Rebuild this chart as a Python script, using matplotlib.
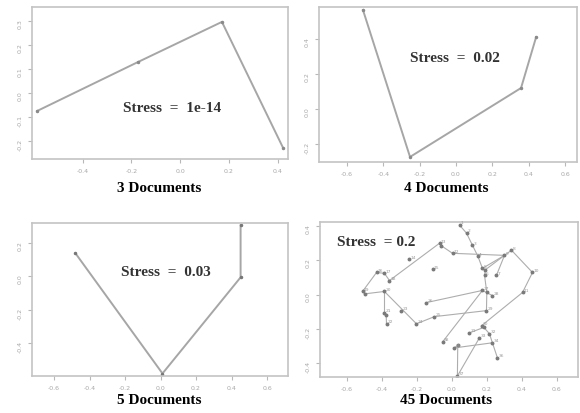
import matplotlib
matplotlib.use('Agg')
from matplotlib import pyplot as plt

# MDS configurations of the document sets, with their stress values
docs3_x = [-0.587, -0.173, 0.171, 0.422]
docs3_y = [-0.075, 0.129, 0.296, -0.229]

docs4_x = [-0.512, -0.253, 0.358, 0.441]
docs4_y = [0.566, -0.274, 0.120, 0.411]

docs5_x = [-0.479, 0.011, 0.451, 0.451]
docs5_y = [0.138, -0.583, -0.006, 0.306]

docs45_x = [0.043, 0.083, 0.117, 0.148, 0.174, 0.186, 0.254, 0.340, 0.300, 0.460,
            0.403, 0.003, -0.071, -0.243, -0.111, -0.431, -0.386, -0.357, -0.511, -0.386,
            -0.386, -0.374, -0.289, -0.203, -0.100, -0.146, 0.174, 0.231, 0.197, 0.169,
            0.100, 0.214, 0.157, 0.231, 0.014, 0.260, 0.031, -0.053, -0.376, -0.062,
            0.191, 0.033, 0.182, -0.498, 0.199]
docs45_y = [0.406, 0.359, 0.288, 0.224, 0.153, 0.112, 0.112, 0.259, 0.229, 0.129,
            0.012, 0.241, 0.300, 0.206, 0.147, 0.129, 0.124, 0.082, 0.018, 0.018,
            -0.106, -0.171, -0.094, -0.171, -0.129, -0.047, 0.024, -0.006, -0.094, -0.182,
            -0.224, -0.229, -0.253, -0.282, -0.312, -0.371, -0.476, -0.276, -0.120, 0.286,
            0.145, -0.296, -0.192, 0.004, 0.012]
# links between documents (1-based ids)
docs45_links = [(1, 2), (2, 3), (3, 4), (4, 5), (5, 41), (41, 6), (6, 45), (45, 29),
                (9, 5), (9, 41), (9, 7), (9, 8), (8, 10), (10, 11), (11, 30), (12, 9),
                (12, 40), (40, 13), (13, 18), (19, 16), (16, 17), (17, 18), (19, 44),
                (44, 20), (20, 21), (21, 39), (39, 22), (20, 24), (24, 25), (25, 29),
                (26, 27), (38, 27), (27, 28), (30, 43), (43, 31), (43, 32), (32, 34),
                (34, 35), (34, 36), (35, 42), (42, 37), (37, 33)]
# documents that sit on top of another one get no label of their own
docs45_hidden = [39, 40, 41, 42, 43, 44, 45]

stress = ["1e-14", "0.02", "0.03", "0.2"]
titles = ["3 Documents", "4 Documents", "5 Documents", "45 Documents"]

W, H = 580, 413
fig = plt.figure(figsize=(W / 100, H / 100), dpi=100)

def make_axes(l, t, r, b):
    ax = fig.add_axes([l / W, 1 - b / H, (r - l) / W, (b - t) / H])
    for s in ax.spines.values():
        s.set_color('#c4c4c4')
        s.set_linewidth(1.2)
    ax.tick_params(colors='#b8b8b8', labelcolor='#a8a8a8', length=3, width=0.8,
                   labelsize=4.5, pad=4)
    ax.tick_params(axis='y', labelrotation=90)
    return ax

def fmt(v):
    return "%.1f" % v

serif = {'family': 'Liberation Serif', 'weight': 'bold'}
line_c = '#a6a6a6'

# 3 documents
ax1 = make_axes(32, 7, 288, 159)
ax1.plot(docs3_x, docs3_y, color=line_c, lw=1.4, marker='o', ms=1.5, mfc='#8a8a8a', mec='#8a8a8a')
ax1.set_xlim(-0.608, 0.442)
ax1.set_ylim(-0.275, 0.358)
xt = [-0.4, -0.2, 0.0, 0.2, 0.4]
yt = [-0.2, -0.1, 0.0, 0.1, 0.2, 0.3]
ax1.set_xticks(xt, [fmt(v) for v in xt])
ax1.set_yticks(yt, [fmt(v) for v in yt])

# 4 documents
ax2 = make_axes(319, 7, 577, 162)
ax2.plot(docs4_x, docs4_y, color=line_c, lw=1.4, marker='o', ms=1.5, mfc='#8a8a8a', mec='#8a8a8a')
ax2.set_xlim(-0.754, 0.666)
ax2.set_ylim(-0.303, 0.583)
xt = [-0.6, -0.4, -0.2, 0.0, 0.2, 0.4, 0.6]
yt = [-0.2, 0.0, 0.2, 0.4]
ax2.set_xticks(xt, [fmt(v) for v in xt])
ax2.set_yticks(yt, [fmt(v) for v in yt])

# 5 documents
ax3 = make_axes(32, 223, 288, 376)
ax3.plot(docs5_x, docs5_y, color=line_c, lw=1.4, marker='o', ms=1.5, mfc='#777', mec='#777')
ax3.set_xlim(-0.724, 0.718)
ax3.set_ylim(-0.598, 0.32)
yt = [-0.4, -0.2, 0.0, 0.2]
ax3.set_xticks(xt, [fmt(v) for v in xt])
ax3.set_yticks(yt, [fmt(v) for v in yt])

# 45 documents
ax4 = make_axes(320, 222, 578, 377)
for a, b in docs45_links:
    ax4.plot([docs45_x[a - 1], docs45_x[b - 1]], [docs45_y[a - 1], docs45_y[b - 1]],
             color='#adadad', lw=0.8)
ax4.plot(docs45_x, docs45_y, ls='none', marker='o', ms=1.8, mfc='#7a7a7a', mec='#7a7a7a')
for i, (x, y) in enumerate(zip(docs45_x, docs45_y)):
    if i + 1 in docs45_hidden:
        continue
    ax4.text(x + 0.008, y + 0.004, str(i + 1), fontsize=3.2, color='#999999')
ax4.set_xlim(-0.754, 0.72)
ax4.set_ylim(-0.482, 0.424)
yt = [-0.4, -0.2, 0.0, 0.2, 0.4]
ax4.set_xticks(xt, [fmt(v) for v in xt])
ax4.set_yticks(yt, [fmt(v) for v in yt])

# stress annotations, placed in figure pixels
stress_pos = [(172, 108), (455, 58), (166, 272), (376, 242)]
for (px, py), s in zip(stress_pos, stress):
    txt = "Stress  = 0.2" if s == "0.2" else "Stress  =  " + s
    fig.text(px / W, 1 - py / H, txt, ha='center', va='center', fontsize=11,
             color='#333333', **serif)

title_pos = [(159, 188), (446, 188), (159, 401), (446, 401)]
for (px, py), t in zip(title_pos, titles):
    fig.text(px / W, 1 - py / H, t, ha='center', va='center', fontsize=11,
             color='black', **serif)

plt.savefig("out.png", dpi=100)
